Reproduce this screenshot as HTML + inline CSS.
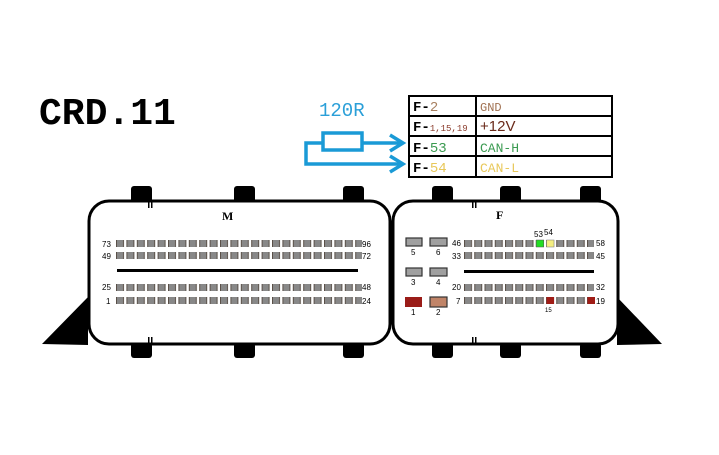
<!DOCTYPE html>
<html><head><meta charset="utf-8"><style>html,body{margin:0;padding:0;background:#fff}svg{display:block}</style></head><body>
<svg width="719" height="455" viewBox="0 0 719 455" xmlns="http://www.w3.org/2000/svg" font-family="Liberation Sans, sans-serif">
<defs>
<pattern id="pm" x="116" y="0" width="10.4" height="455" patternUnits="userSpaceOnUse"><rect x="0.5" y="0" width="7" height="455" fill="#888" stroke="#5a5048" stroke-width="1"/></pattern>
<pattern id="pf" x="464" y="0" width="10.25" height="455" patternUnits="userSpaceOnUse"><rect x="0.5" y="0" width="7" height="455" fill="#888" stroke="#5a5048" stroke-width="1"/></pattern>
</defs>
<text x="39" y="124" font-family="Liberation Mono, monospace" font-weight="bold" font-size="38" fill="#000">CRD.11</text>
<text x="319" y="116" font-family="Liberation Mono, monospace" font-size="19" fill="#2a9fd8">120R</text>
<g stroke="#1a9ad6" stroke-width="3.5" fill="none">
<rect x="323" y="133" width="39" height="17"/>
<polyline points="323,143 306,143 306,164 402,164"/>
<line x1="362" y1="143" x2="402" y2="143"/>
<polyline points="390,135 403,143 390,151"/>
<polyline points="390,156 403,164 390,172"/>
</g>
<g stroke="#000" stroke-width="2" fill="none">
<rect x="409" y="96" width="203" height="81"/>
<line x1="476" y1="96" x2="476" y2="177"/>
<line x1="409" y1="116" x2="612" y2="116"/>
<line x1="409" y1="136" x2="612" y2="136"/>
<line x1="409" y1="156" x2="612" y2="156"/>
</g>
<g font-family="Liberation Mono, monospace" font-size="14">
<text x="413" y="111" font-weight="bold">F-<tspan font-weight="normal" fill="#a88060">2</tspan></text>
<text x="413" y="131" font-weight="bold">F-<tspan font-weight="normal" font-size="9" fill="#8a3a2a">1,15,19</tspan></text>
<text x="413" y="152" font-weight="bold">F-<tspan font-weight="normal" fill="#3a9a50">53</tspan></text>
<text x="413" y="172" font-weight="bold">F-<tspan font-weight="normal" fill="#e8c85a">54</tspan></text>
<text x="480" y="111" font-size="12" fill="#a07050">GND</text>
<text x="480" y="131" font-family="Liberation Sans, sans-serif" font-size="15" fill="#6a2a1a">+12V</text>
<text x="480" y="152" font-size="13" fill="#3a9a50">CAN-H</text>
<text x="480" y="172" font-size="13" fill="#e8c85a">CAN-L</text>
</g>
<g fill="#000">
<rect x="131" y="186" width="21" height="17" rx="3"/><rect x="234" y="186" width="21" height="17" rx="3"/><rect x="343" y="186" width="21" height="17" rx="3"/>
<rect x="131" y="343" width="21" height="15" rx="3"/><rect x="234" y="343" width="21" height="15" rx="3"/><rect x="343" y="343" width="21" height="15" rx="3"/>
<rect x="432" y="186" width="21" height="17" rx="3"/><rect x="500" y="186" width="21" height="17" rx="3"/><rect x="580" y="186" width="21" height="17" rx="3"/>
<rect x="432" y="343" width="21" height="15" rx="3"/><rect x="500" y="343" width="21" height="15" rx="3"/><rect x="580" y="343" width="21" height="15" rx="3"/>
<polygon points="42,344 88,297 88,345"/>
<polygon points="617,297 662,344 617,345"/>
</g>
<rect x="89" y="201" width="301" height="143" rx="20" fill="#fff" stroke="#000" stroke-width="3"/>
<rect x="393" y="201" width="225" height="143" rx="20" fill="#fff" stroke="#000" stroke-width="3"/>
<g fill="#000"><rect x="148" y="201" width="1.5" height="7"/><rect x="151" y="201" width="1.5" height="7"/><rect x="148" y="337" width="1.5" height="7"/><rect x="151" y="337" width="1.5" height="7"/>
<rect x="472" y="201" width="1.5" height="7"/><rect x="475" y="201" width="1.5" height="7"/><rect x="472" y="337" width="1.5" height="7"/><rect x="475" y="337" width="1.5" height="7"/></g>
<text x="222" y="220" font-family="Liberation Serif, serif" font-weight="bold" font-size="12">M</text>
<text x="496" y="219" font-family="Liberation Serif, serif" font-weight="bold" font-size="12">F</text>
<rect x="116" y="240" width="246" height="7" fill="url(#pm)"/>
<rect x="116" y="252" width="246" height="7" fill="url(#pm)"/>
<rect x="116" y="284" width="246" height="7" fill="url(#pm)"/>
<rect x="116" y="297" width="246" height="7" fill="url(#pm)"/>
<rect x="117" y="269" width="241" height="3" fill="#000"/>
<g font-size="8" fill="#000">
<text x="102" y="247">73</text><text x="102" y="259">49</text><text x="102" y="290">25</text><text x="106" y="304">1</text>
<text x="362" y="247">96</text><text x="362" y="259">72</text><text x="362" y="290">48</text><text x="362" y="304">24</text>
</g>
<rect x="464" y="240" width="130" height="7" fill="url(#pf)"/>
<rect x="464" y="252" width="130" height="7" fill="url(#pf)"/>
<rect x="464" y="284" width="130" height="7" fill="url(#pf)"/>
<rect x="464" y="297" width="130" height="7" fill="url(#pf)"/>
<rect x="536.25" y="240" width="7.5" height="7" fill="#22dd22" stroke="#555" stroke-width="0.5"/>
<rect x="546.5" y="240" width="7.5" height="7" fill="#f4ee80" stroke="#777" stroke-width="0.5"/>
<rect x="546.5" y="297" width="7.5" height="7" fill="#a01c16"/>
<rect x="587.5" y="297" width="7.5" height="7" fill="#a01c16"/>
<rect x="464" y="270" width="130" height="3" fill="#000"/>
<g font-size="8" fill="#000">
<text x="452" y="246">46</text><text x="452" y="259">33</text><text x="452" y="290">20</text><text x="456" y="304">7</text>
<text x="596" y="246">58</text><text x="596" y="259">45</text><text x="596" y="290">32</text><text x="596" y="304">19</text>
<text x="534" y="237">53</text><text x="544" y="235">54</text><text x="545" y="312" font-size="6">15</text>
</g>
<g stroke="#333" stroke-width="1.2">
<rect x="406" y="238" width="16" height="8" fill="#a0a0a0"/><rect x="430" y="238" width="17" height="8" fill="#a0a0a0"/>
<rect x="406" y="268" width="16" height="8" fill="#a0a0a0"/><rect x="430" y="268" width="17" height="8" fill="#a0a0a0"/>
<rect x="405" y="297" width="17" height="10" fill="#9a1c18" stroke="none"/><rect x="430" y="297" width="17" height="10" fill="#c08468"/>
</g>
<g font-size="8" fill="#000">
<text x="411" y="255">5</text><text x="436" y="255">6</text><text x="411" y="285">3</text><text x="436" y="285">4</text><text x="411" y="315">1</text><text x="436" y="315">2</text>
</g>
</svg>
</body></html>
